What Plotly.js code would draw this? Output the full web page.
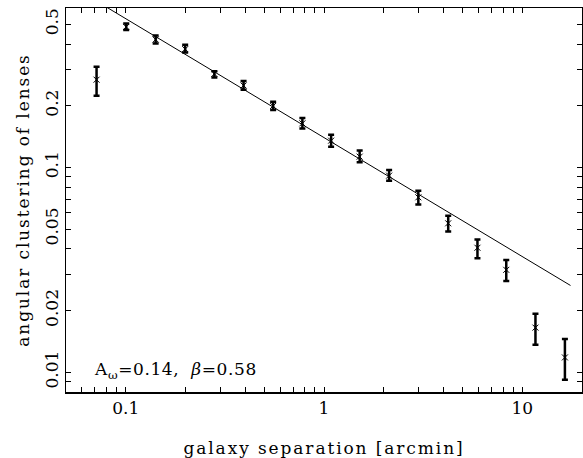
<!DOCTYPE html>
<html>
<head>
<meta charset="utf-8">
<script src="https://cdn.plot.ly/plotly-3.0.1.min.js"></script>
<style>
html,body{margin:0;padding:0;background:#fff;}
#chart{width:583px;height:458px;}
.xtitle,.ytitle{letter-spacing:1.9px;}
.annotation-text{letter-spacing:0.6px;}
</style>
</head>
<body>
<div id="chart"></div>
<script>
// separation [arcmin]
const separation = [0.0713, 0.1006, 0.1416, 0.1995, 0.280, 0.393, 0.554, 0.778, 1.086, 1.513, 2.13, 2.99, 4.23, 5.94, 8.30, 11.65, 16.4];
// angular clustering
const clustering = [0.268, 0.485, 0.421, 0.378, 0.286, 0.251, 0.1995, 0.164, 0.135, 0.1128, 0.0911, 0.0714, 0.0533, 0.0405, 0.0316, 0.0165, 0.0118];
const errUpper = [0.310, 0.504, 0.440, 0.397, 0.295, 0.264, 0.209, 0.174, 0.1443, 0.121, 0.0971, 0.0769, 0.0581, 0.0444, 0.0353, 0.0193, 0.0145];
const errLower = [0.224, 0.468, 0.403, 0.364, 0.275, 0.239, 0.1906, 0.155, 0.1262, 0.1058, 0.0861, 0.0658, 0.0486, 0.0360, 0.0279, 0.0136, 0.00918];
// power-law fit line endpoints (A=0.14, beta=0.58)
const fitX = [0.08, 17.5];
const fitY = [0.606, 0.0265];

const xTickVals = [0.06,0.07,0.08,0.09,0.1,0.2,0.3,0.4,0.5,0.6,0.7,0.8,0.9,1,2,3,4,5,6,7,8,9,10,20];
const xTickLabels = ['','','','','0.1','','','','','','','','','1','','','','','','','','','10',''];
const yTickVals = [0.009,0.01,0.02,0.03,0.04,0.05,0.06,0.07,0.08,0.09,0.1,0.2,0.3,0.4,0.5,0.6];
const yTickLabels = ['','0.01','0.02','','','0.05','','','','','0.1','0.2','','','0.5',''];

const plusErr = clustering.map((v,i)=>errUpper[i]-v);
const minusErr = clustering.map((v,i)=>v-errLower[i]);

const font = 'DejaVu Serif, Liberation Serif, serif';

const traces = [
  {x: fitX, y: fitY, mode:'lines', line:{color:'#000', width:1}, hoverinfo:'skip'},
  {x: separation, y: clustering, mode:'markers',
   marker:{symbol:'x-thin-open', size:6, color:'#000', line:{color:'#000', width:1}},
   error_y:{type:'data', symmetric:false, array:plusErr, arrayminus:minusErr, color:'#000', thickness:2.5, width:3}}
];

const axisCommon = {
  type:'log', showgrid:false, zeroline:false, showline:true, linecolor:'#000', linewidth:1.5,
  mirror:'ticks', ticks:'inside', ticklen:5, tickwidth:1, tickcolor:'#000',
  tickmode:'array', tickfont:{family:font, size:17, color:'#000'}
};

const layout = {
  width:583, height:458,
  margin:{l:66, r:1, t:8, b:66},
  paper_bgcolor:'#fff', plot_bgcolor:'#fff',
  showlegend:false,
  xaxis: Object.assign({}, axisCommon, {
    range:[Math.log10(0.05), Math.log10(20)],
    tickvals:xTickVals, ticktext:xTickLabels,
    title:{text:'galaxy separation [arcmin]', font:{family:font, size:17, color:'#000'}, standoff:27}
  }),
  yaxis: Object.assign({}, axisCommon, {
    range:[Math.log10(0.008), Math.log10(0.6)],
    tickvals:yTickVals, ticktext:yTickLabels, tickangle:-90,
    title:{text:'angular clustering of lenses', font:{family:font, size:17, color:'#000'}, standoff:8}
  }),
  annotations:[{
    xref:'paper', yref:'paper', x:0.05, y:0.055, xanchor:'left', yanchor:'middle', showarrow:false,
    text:'A<sub>ω</sub>=0.14,  <i>β</i>=0.58', font:{family:font, size:17, color:'#000'}
  }]
};

Plotly.newPlot('chart', traces, layout, {displayModeBar:false, staticPlot:true});
</script>
</body>
</html>
